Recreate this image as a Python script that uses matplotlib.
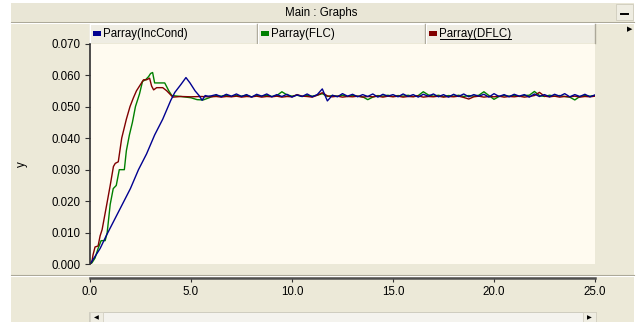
import numpy as np
import matplotlib.pyplot as plt
from matplotlib.patches import Rectangle

plt.rcParams['font.family'] = ['Liberation Sans', 'DejaVu Sans']

# Hasil simulasi daya: fase transien (waktu, P)
t_inc = [0, 0.1, 0.3, 0.5, 0.8, 1.2, 1.6, 2.0, 2.4, 2.8, 3.2, 3.6, 4.0, 4.2,
         4.5, 4.75, 4.95, 5.2, 5.4, 5.55, 5.7, 5.85]
p_inc = [0, 0.001, 0.003, 0.005, 0.009, 0.014, 0.019, 0.024, 0.030, 0.035,
         0.041, 0.046, 0.052, 0.0545, 0.057, 0.0592, 0.0575, 0.055, 0.0535,
         0.052, 0.0535, 0.0533]

t_flc = [0, 0.1, 0.25, 0.4, 0.55, 0.75, 0.85, 1.0, 1.15, 1.3, 1.45, 1.55, 1.7,
         1.8, 1.95, 2.1, 2.25, 2.45, 2.6, 2.75, 2.9, 3.0, 3.1, 3.2, 3.4, 3.7,
         3.9, 4.05, 4.5, 5.0, 5.3, 5.6, 5.9]
p_flc = [0, 0.0005, 0.002, 0.005, 0.0075, 0.0075, 0.010, 0.019, 0.024, 0.025,
         0.030, 0.030, 0.030, 0.036, 0.041, 0.045, 0.050, 0.054, 0.058,
         0.0585, 0.0595, 0.0605, 0.0608, 0.0575, 0.0575, 0.0575, 0.055, 0.0535,
         0.0532, 0.0528, 0.0522, 0.0521, 0.0528]

t_dflc = [0, 0.1, 0.15, 0.25, 0.4, 0.5, 0.6, 0.83, 1.0, 1.16, 1.25, 1.4, 1.57,
          1.8, 1.98, 2.15, 2.3, 2.5, 2.65, 2.8, 2.95, 3.05, 3.15, 3.3, 3.6,
          3.8, 4.1, 4.5, 5.0, 5.5, 5.9]
p_dflc = [0, 0.001, 0.003, 0.0055, 0.0058, 0.009, 0.011, 0.019, 0.025, 0.031,
          0.032, 0.0325, 0.040, 0.046, 0.050, 0.0528, 0.055, 0.057, 0.0585,
          0.0585, 0.059, 0.0565, 0.0553, 0.056, 0.056, 0.055, 0.053, 0.0532,
          0.0531, 0.0532, 0.0531]

# fase tunak, sampel tiap 0.25 s dari 6.0 s sampai 25.0 s
t_ss = np.arange(6.0, 25.01, 0.25)
p_inc_ss = [0.0534, 0.0538, 0.0531, 0.0539, 0.0533, 0.0540, 0.0532, 0.0538,
            0.0530, 0.0539, 0.0533, 0.0540, 0.0531, 0.0538, 0.0532, 0.0539,
            0.0530, 0.0537, 0.0532, 0.0540, 0.0531, 0.0538, 0.0556, 0.0518,
            0.0536, 0.0531, 0.0541, 0.0533, 0.0539, 0.0531, 0.0538, 0.0532,
            0.0540, 0.0530, 0.0539, 0.0533, 0.0538, 0.0531, 0.0540, 0.0532,
            0.0538, 0.0530, 0.0539, 0.0533, 0.0540, 0.0531, 0.0538, 0.0530,
            0.0539, 0.0532, 0.0540, 0.0531, 0.0538, 0.0533, 0.0539, 0.0530,
            0.0541, 0.0532, 0.0538, 0.0531, 0.0539, 0.0533, 0.0538, 0.0530,
            0.0540, 0.0532, 0.0538, 0.0531, 0.0539, 0.0533, 0.0541, 0.0531,
            0.0538, 0.0532, 0.0539, 0.0531, 0.0537]
p_flc_ss = [0.0531, 0.0535, 0.0533, 0.0536, 0.0532, 0.0535, 0.0533, 0.0536,
            0.0531, 0.0535, 0.0533, 0.0536, 0.0532, 0.0535, 0.0547, 0.0537,
            0.0533, 0.0536, 0.0532, 0.0535, 0.0533, 0.0536, 0.0541, 0.0532,
            0.0535, 0.0533, 0.0536, 0.0532, 0.0535, 0.0533, 0.0531, 0.0522,
            0.0530, 0.0535, 0.0533, 0.0536, 0.0532, 0.0535, 0.0533, 0.0536,
            0.0532, 0.0535, 0.0547, 0.0537, 0.0533, 0.0536, 0.0532, 0.0535,
            0.0533, 0.0536, 0.0532, 0.0535, 0.0533, 0.0536, 0.0547, 0.0535,
            0.0523, 0.0532, 0.0535, 0.0533, 0.0536, 0.0532, 0.0535, 0.0536,
            0.0548, 0.0535, 0.0532, 0.0536, 0.0533, 0.0535, 0.0532, 0.0530,
            0.0521, 0.0532, 0.0535, 0.0533, 0.0535]
p_dflc_ss = [0.0531, 0.0532, 0.0530, 0.0532, 0.0531, 0.0533, 0.0530, 0.0532,
             0.0531, 0.0533, 0.0530, 0.0532, 0.0531, 0.0533, 0.0530, 0.0532,
             0.0531, 0.0538, 0.0533, 0.0532, 0.0530, 0.0536, 0.0544, 0.0534,
             0.0531, 0.0533, 0.0530, 0.0532, 0.0531, 0.0533, 0.0530, 0.0532,
             0.0531, 0.0533, 0.0530, 0.0533, 0.0531, 0.0533, 0.0530, 0.0532,
             0.0531, 0.0534, 0.0530, 0.0532, 0.0531, 0.0533, 0.0530, 0.0532,
             0.0531, 0.0533, 0.0529, 0.0524, 0.0531, 0.0533, 0.0530, 0.0532,
             0.0531, 0.0533, 0.0530, 0.0532, 0.0531, 0.0533, 0.0530, 0.0532,
             0.0535, 0.0545, 0.0533, 0.0531, 0.0533, 0.0530, 0.0532, 0.0531,
             0.0533, 0.0530, 0.0532, 0.0531, 0.0533]

labels = ['Parray(IncCond)', 'Parray(FLC)', 'Parray(DFLC)']
colors = ['#000090', '#008000', '#800000']
y_ticks = [0.0, 0.01, 0.02, 0.03, 0.04, 0.05, 0.06, 0.07]
x_ticks = [0.0, 5.0, 10.0, 15.0, 20.0, 25.0]

W, H = 638, 322
panel = '#ECE9D8'
cream = '#FFFBF0'
fs = 8.3

fig = plt.figure(figsize=(W / 100, H / 100), dpi=100)
fig.patch.set_facecolor('white')

# latar jendela digambar dalam koordinat piksel
bg = fig.add_axes([0, 0, 1, 1])
bg.set_xlim(0, W)
bg.set_ylim(H, 0)
bg.axis('off')
bg.add_patch(Rectangle((11, 3), 623, 330, facecolor=panel, edgecolor='none'))
bg.add_patch(Rectangle((11, 3), 623, 18, facecolor='#E9E6D6', edgecolor='none'))
bg.plot([11, 634], [21.5, 21.5], color='#A8A594', lw=0.8)
bg.plot([11, 634], [22.5, 22.5], color='white', lw=0.8)
bg.text(321, 12.5, 'Main : Graphs', ha='center', va='center', fontsize=fs)
# tombol minimize
bg.add_patch(Rectangle((616, 4), 17, 16, facecolor='#EFEDE2', edgecolor='#CFCCBC', lw=0.6))
bg.plot([621, 628], [13.5, 13.5], color='black', lw=1.4)

# kepala legenda
edges = [89, 257, 425, 595]
for i in range(3):
    x0, x1 = edges[i], edges[i + 1]
    bg.add_patch(Rectangle((x0, 23.5), x1 - x0, 19.5, facecolor='#EFEDE3', edgecolor='none'))
    bg.plot([x0 + 0.5, x1 - 0.5], [23.8, 23.8], color='white', lw=0.8)
    bg.plot([x0 + 0.5, x0 + 0.5], [23.8, 43], color='white', lw=0.8)
    bg.plot([x1 - 0.5, x1 - 0.5], [23.8, 43], color='#ACA899', lw=1.0)
    bg.add_patch(Rectangle((x0 + 4, 30.5), 8, 5, facecolor=colors[i], edgecolor='none'))
    bg.text(x0 + 14.5, 33.5, labels[i], ha='left', va='center', fontsize=fs)
# label legenda yang aktif bergaris bawah
bg.plot([440, 511], [39.0, 39.0], color='black', lw=0.7)
bg.text(629.5, 29.5, '\u25B6', ha='center', va='center', fontsize=5)

# garis pemisah di atas sumbu x
bg.plot([11, 634], [275, 275], color='#A8A594', lw=0.8)
bg.plot([11, 634], [276, 276], color='white', lw=0.8)

# scrollbar bawah
bg.add_patch(Rectangle((89, 311.5), 507, 14, facecolor='#F4F3EE', edgecolor='#C9C7BA', lw=0.6))
bg.add_patch(Rectangle((89.5, 312), 13, 14, facecolor='#EFEDE2', edgecolor='#D4D1C2', lw=0.6))
bg.add_patch(Rectangle((582.5, 312), 13, 14, facecolor='#EFEDE2', edgecolor='#D4D1C2', lw=0.6))
bg.text(96, 318, '\u25C0', ha='center', va='center', fontsize=4.5)
bg.text(589, 318, '\u25B6', ha='center', va='center', fontsize=4.5)

bg.text(22, 164, 'y', rotation=90, ha='center', va='center', fontsize=fs)

# area grafik
ax = fig.add_axes([90 / W, 1 - 264.3 / H, 505 / W, (264.3 - 43.5) / H])
ax.set_facecolor(cream)
for series in [(t_flc, p_flc, p_flc_ss, 1), (t_dflc, p_dflc, p_dflc_ss, 2),
               (t_inc, p_inc, p_inc_ss, 0)]:
    tt, pp, ss, k = series
    ax.plot(list(tt) + list(t_ss), list(pp) + list(ss), color=colors[k], lw=1.0)
ax.set_xlim(0, 25)
ax.set_ylim(0, 0.07)
ax.set_yticks(y_ticks)
ax.set_yticklabels(['%.3f' % v for v in y_ticks])
ax.set_xticks([])
for s in ['top', 'right', 'bottom']:
    ax.spines[s].set_visible(False)
ax.spines['left'].set_color('#303030')
ax.spines['left'].set_linewidth(1.2)
ax.tick_params(axis='y', direction='out', length=3.5, width=0.8, pad=3,
               labelsize=fs, color='#303030')

# sumbu x terpisah
ax2 = fig.add_axes([90 / W, 1 - 278 / H, 505 / W, 0.0001])
ax2.set_facecolor('none')
ax2.set_xlim(0, 25)
ax2.set_xticks(x_ticks)
ax2.set_xticklabels(['%.1f' % v for v in x_ticks])
ax2.set_yticks([])
for s in ['top', 'right', 'left']:
    ax2.spines[s].set_visible(False)
ax2.spines['bottom'].set_color('#505050')
ax2.spines['bottom'].set_linewidth(1.8)
ax2.tick_params(axis='x', direction='out', length=3, width=0.8, pad=2.5,
                labelsize=fs, color='#303030')

fig.savefig('out.png', dpi=100)
